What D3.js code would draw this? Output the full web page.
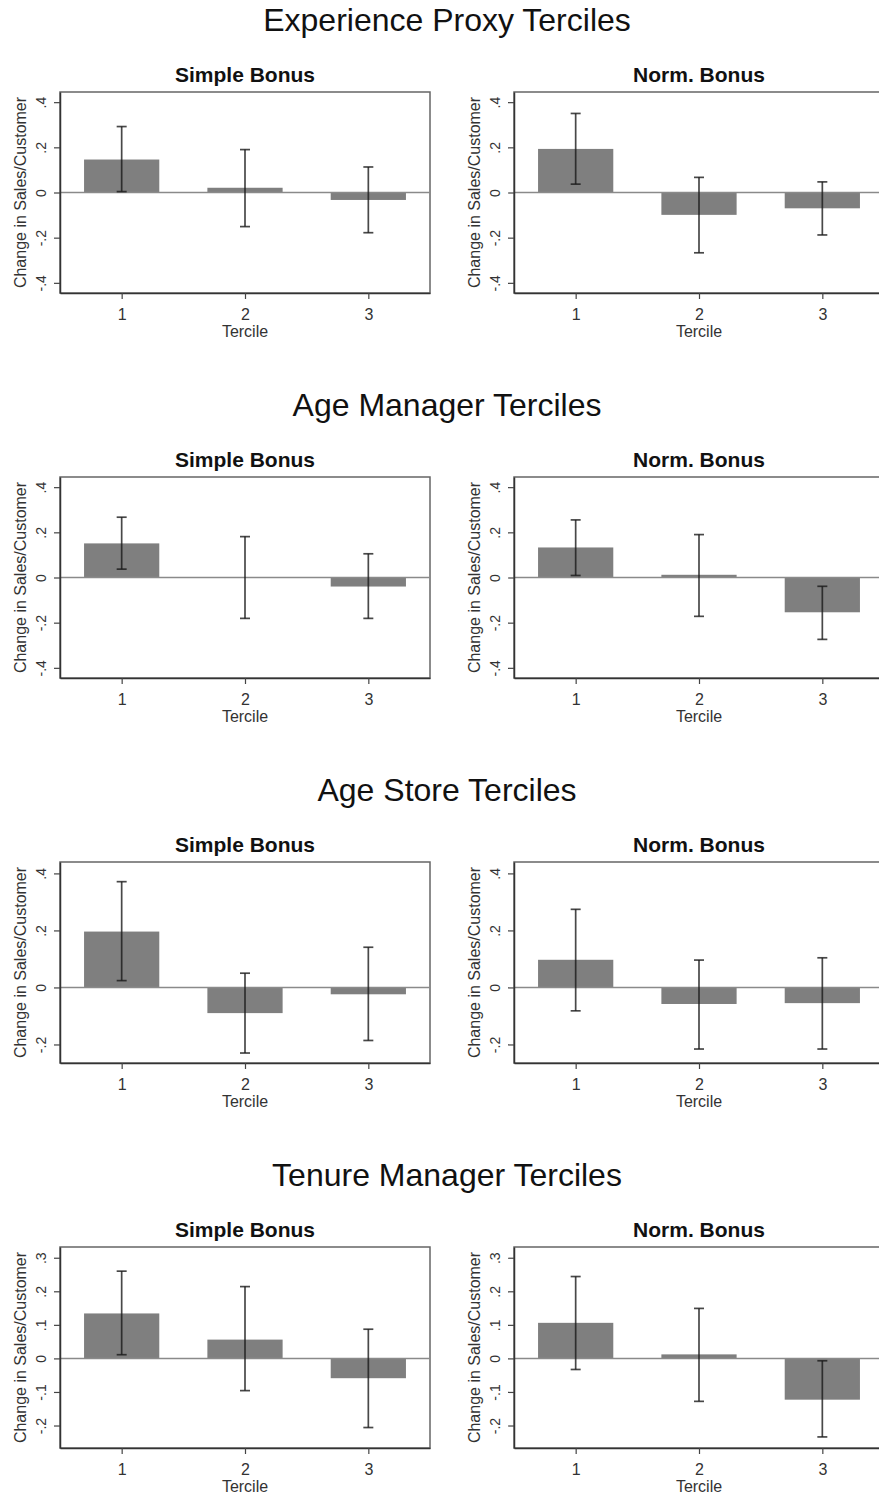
<!DOCTYPE html>
<html lang="en">
<head>
<meta charset="UTF-8">
<title>Terciles</title>
<script src="https://d3js.org/d3.v7.min.js"></script>
<style>
  body { margin: 0; background: #fff; }
  svg { display: block; overflow: hidden; font-family: "Liberation Sans", Arial, sans-serif; }
</style>
</head>
<body>
<div id="chart"></div>
<script>
// data
const sections = ["Experience Proxy Terciles", "Age Manager Terciles", "Age Store Terciles", "Tenure Manager Terciles"];
const panels = ["Simple Bonus", "Norm. Bonus"];
const terciles = [1, 2, 3];

const expSimpleEst = [0.146, 0.021, -0.033];
const expSimpleLo  = [0.004, -0.151, -0.178];
const expSimpleHi  = [0.292, 0.190, 0.113];
const expNormEst   = [0.193, -0.099, -0.070];
const expNormLo    = [0.037, -0.267, -0.188];
const expNormHi    = [0.350, 0.067, 0.047];

const ageMgrSimpleEst = [0.151, 0.002, -0.040];
const ageMgrSimpleLo  = [0.037, -0.181, -0.181];
const ageMgrSimpleHi  = [0.267, 0.181, 0.105];
const ageMgrNormEst   = [0.133, 0.012, -0.154];
const ageMgrNormLo    = [0.009, -0.172, -0.274];
const ageMgrNormHi    = [0.255, 0.190, -0.039];

const ageStoreSimpleEst = [0.196, -0.090, -0.024];
const ageStoreSimpleLo  = [0.024, -0.230, -0.186];
const ageStoreSimpleHi  = [0.371, 0.050, 0.141];
const ageStoreNormEst   = [0.097, -0.058, -0.055];
const ageStoreNormLo    = [-0.082, -0.216, -0.216];
const ageStoreNormHi    = [0.274, 0.096, 0.104];

const tenureSimpleEst = [0.134, 0.056, -0.059];
const tenureSimpleLo  = [0.011, -0.096, -0.206];
const tenureSimpleHi  = [0.260, 0.214, 0.087];
const tenureNormEst   = [0.106, 0.012, -0.123];
const tenureNormLo    = [-0.033, -0.128, -0.234];
const tenureNormHi    = [0.244, 0.149, -0.007];

const yTicksWide = [-0.4, -0.2, 0, 0.2, 0.4];
const yLabelsWide = ["-.4", "-.2", "0", ".2", ".4"];
const yTicksStore = [-0.2, 0, 0.2, 0.4];
const yLabelsStore = ["-.2", "0", ".2", ".4"];
const yTicksTenure = [-0.2, -0.1, 0, 0.1, 0.2, 0.3];
const yLabelsTenure = ["-.2", "-.1", "0", ".1", ".2", ".3"];
const yRanges = [[-0.445, 0.445], [-0.445, 0.445], [-0.265, 0.44], [-0.267, 0.332]];

const yTitle = "Change in Sales/Customer";
const xTitle = "Tercile";

// assemble per section
const rows = [
  { title: sections[0], range: yRanges[0], ticks: yTicksWide, labels: yLabelsWide,
    panels: [[expSimpleEst, expSimpleLo, expSimpleHi], [expNormEst, expNormLo, expNormHi]] },
  { title: sections[1], range: yRanges[1], ticks: yTicksWide, labels: yLabelsWide,
    panels: [[ageMgrSimpleEst, ageMgrSimpleLo, ageMgrSimpleHi], [ageMgrNormEst, ageMgrNormLo, ageMgrNormHi]] },
  { title: sections[2], range: yRanges[2], ticks: yTicksStore, labels: yLabelsStore,
    panels: [[ageStoreSimpleEst, ageStoreSimpleLo, ageStoreSimpleHi], [ageStoreNormEst, ageStoreNormLo, ageStoreNormHi]] },
  { title: sections[3], range: yRanges[3], ticks: yTicksTenure, labels: yLabelsTenure,
    panels: [[tenureSimpleEst, tenureSimpleLo, tenureSimpleHi], [tenureNormEst, tenureNormLo, tenureNormHi]] }
];

const width = 879, height = 1495;
const plotW = 370, plotH = 201;
const plotLefts = [60, 514];
const firstTop = 92, rowStep = 385;
const barHalf = 0.305;

const svg = d3.select("#chart").append("svg")
  .attr("width", width)
  .attr("height", height);

rows.forEach((row, r) => {
  const top = firstTop + rowStep * r;

  svg.append("text")
    .attr("x", 447)
    .attr("y", top - 61)
    .attr("text-anchor", "middle")
    .attr("font-size", 32)
    .attr("fill", "#111")
    .text(row.title);

  const y = d3.scaleLinear().domain(row.range).range([top + plotH, top]);

  row.panels.forEach((p, k) => {
    const left = plotLefts[k];
    const x = d3.scaleLinear().domain([0.5, 3.5]).range([left, left + plotW]);
    const [est, lo, hi] = p;
    const g = svg.append("g");

    // panel title
    g.append("text")
      .attr("x", left + plotW / 2)
      .attr("y", top - 10)
      .attr("text-anchor", "middle")
      .attr("font-size", 21)
      .attr("font-weight", "bold")
      .attr("fill", "#111")
      .text(panels[k]);

    // frame
    g.append("rect")
      .attr("x", left).attr("y", top)
      .attr("width", plotW).attr("height", plotH)
      .attr("fill", "none")
      .attr("stroke", "#666")
      .attr("stroke-width", 1.5);

    // bars
    g.selectAll("rect.bar")
      .data(terciles)
      .join("rect")
      .attr("class", "bar")
      .attr("x", d => x(d - barHalf))
      .attr("width", d => x(d + barHalf) - x(d - barHalf))
      .attr("y", (d, i) => y(Math.max(0, est[i])))
      .attr("height", (d, i) => Math.abs(y(est[i]) - y(0)))
      .attr("fill", "#7f7f7f");

    // zero line
    g.append("line")
      .attr("x1", left).attr("x2", left + plotW)
      .attr("y1", y(0)).attr("y2", y(0))
      .attr("stroke", "#8a8a8a")
      .attr("stroke-width", 1.5);

    // confidence intervals
    const ci = g.selectAll("g.ci").data(terciles).join("g").attr("class", "ci")
      .attr("stroke", "#1a1a1a").attr("stroke-opacity", 0.8).attr("stroke-width", 1.7);
    ci.append("line")
      .attr("x1", d => x(d)).attr("x2", d => x(d))
      .attr("y1", (d, i) => y(lo[i])).attr("y2", (d, i) => y(hi[i]));
    ci.append("line")
      .attr("x1", d => x(d) - 5).attr("x2", d => x(d) + 5)
      .attr("y1", (d, i) => y(hi[i])).attr("y2", (d, i) => y(hi[i]));
    ci.append("line")
      .attr("x1", d => x(d) - 5).attr("x2", d => x(d) + 5)
      .attr("y1", (d, i) => y(lo[i])).attr("y2", (d, i) => y(lo[i]));

    // y axis
    const yAxis = g.append("g")
      .attr("transform", `translate(${left},0)`)
      .call(d3.axisLeft(y).tickValues(row.ticks).tickFormat((d, i) => row.labels[i])
        .tickSizeInner(6).tickSizeOuter(0).tickPadding(0));
    yAxis.select(".domain").attr("stroke", "#333").attr("stroke-width", 1.5);
    yAxis.selectAll(".tick line").attr("stroke", "#444").attr("stroke-width", 1.2);
    yAxis.selectAll(".tick text")
      .attr("x", null).attr("dy", null)
      .attr("transform", "translate(-19,0) rotate(-90)")
      .attr("text-anchor", "middle")
      .attr("dominant-baseline", "central")
      .attr("font-size", 14)
      .attr("fill", "#333");

    // x axis
    const xAxis = g.append("g")
      .attr("transform", `translate(0,${top + plotH})`)
      .call(d3.axisBottom(x).tickValues(terciles).tickFormat(d3.format("d"))
        .tickSizeInner(6).tickSizeOuter(0).tickPadding(10));
    xAxis.select(".domain").attr("stroke", "#333").attr("stroke-width", 1.5);
    xAxis.selectAll(".tick line").attr("stroke", "#444").attr("stroke-width", 1.2);
    xAxis.selectAll(".tick text").attr("font-size", 16).attr("fill", "#333");

    // axis titles
    g.append("text")
      .attr("transform", `translate(${left - 40},${top + plotH / 2}) rotate(-90)`)
      .attr("text-anchor", "middle")
      .attr("dominant-baseline", "central")
      .attr("font-size", 16)
      .attr("fill", "#333")
      .text(yTitle);
    g.append("text")
      .attr("x", left + plotW / 2)
      .attr("y", top + plotH + 44)
      .attr("text-anchor", "middle")
      .attr("font-size", 16)
      .attr("fill", "#333")
      .text(xTitle);
  });
});
</script>
</body>
</html>
